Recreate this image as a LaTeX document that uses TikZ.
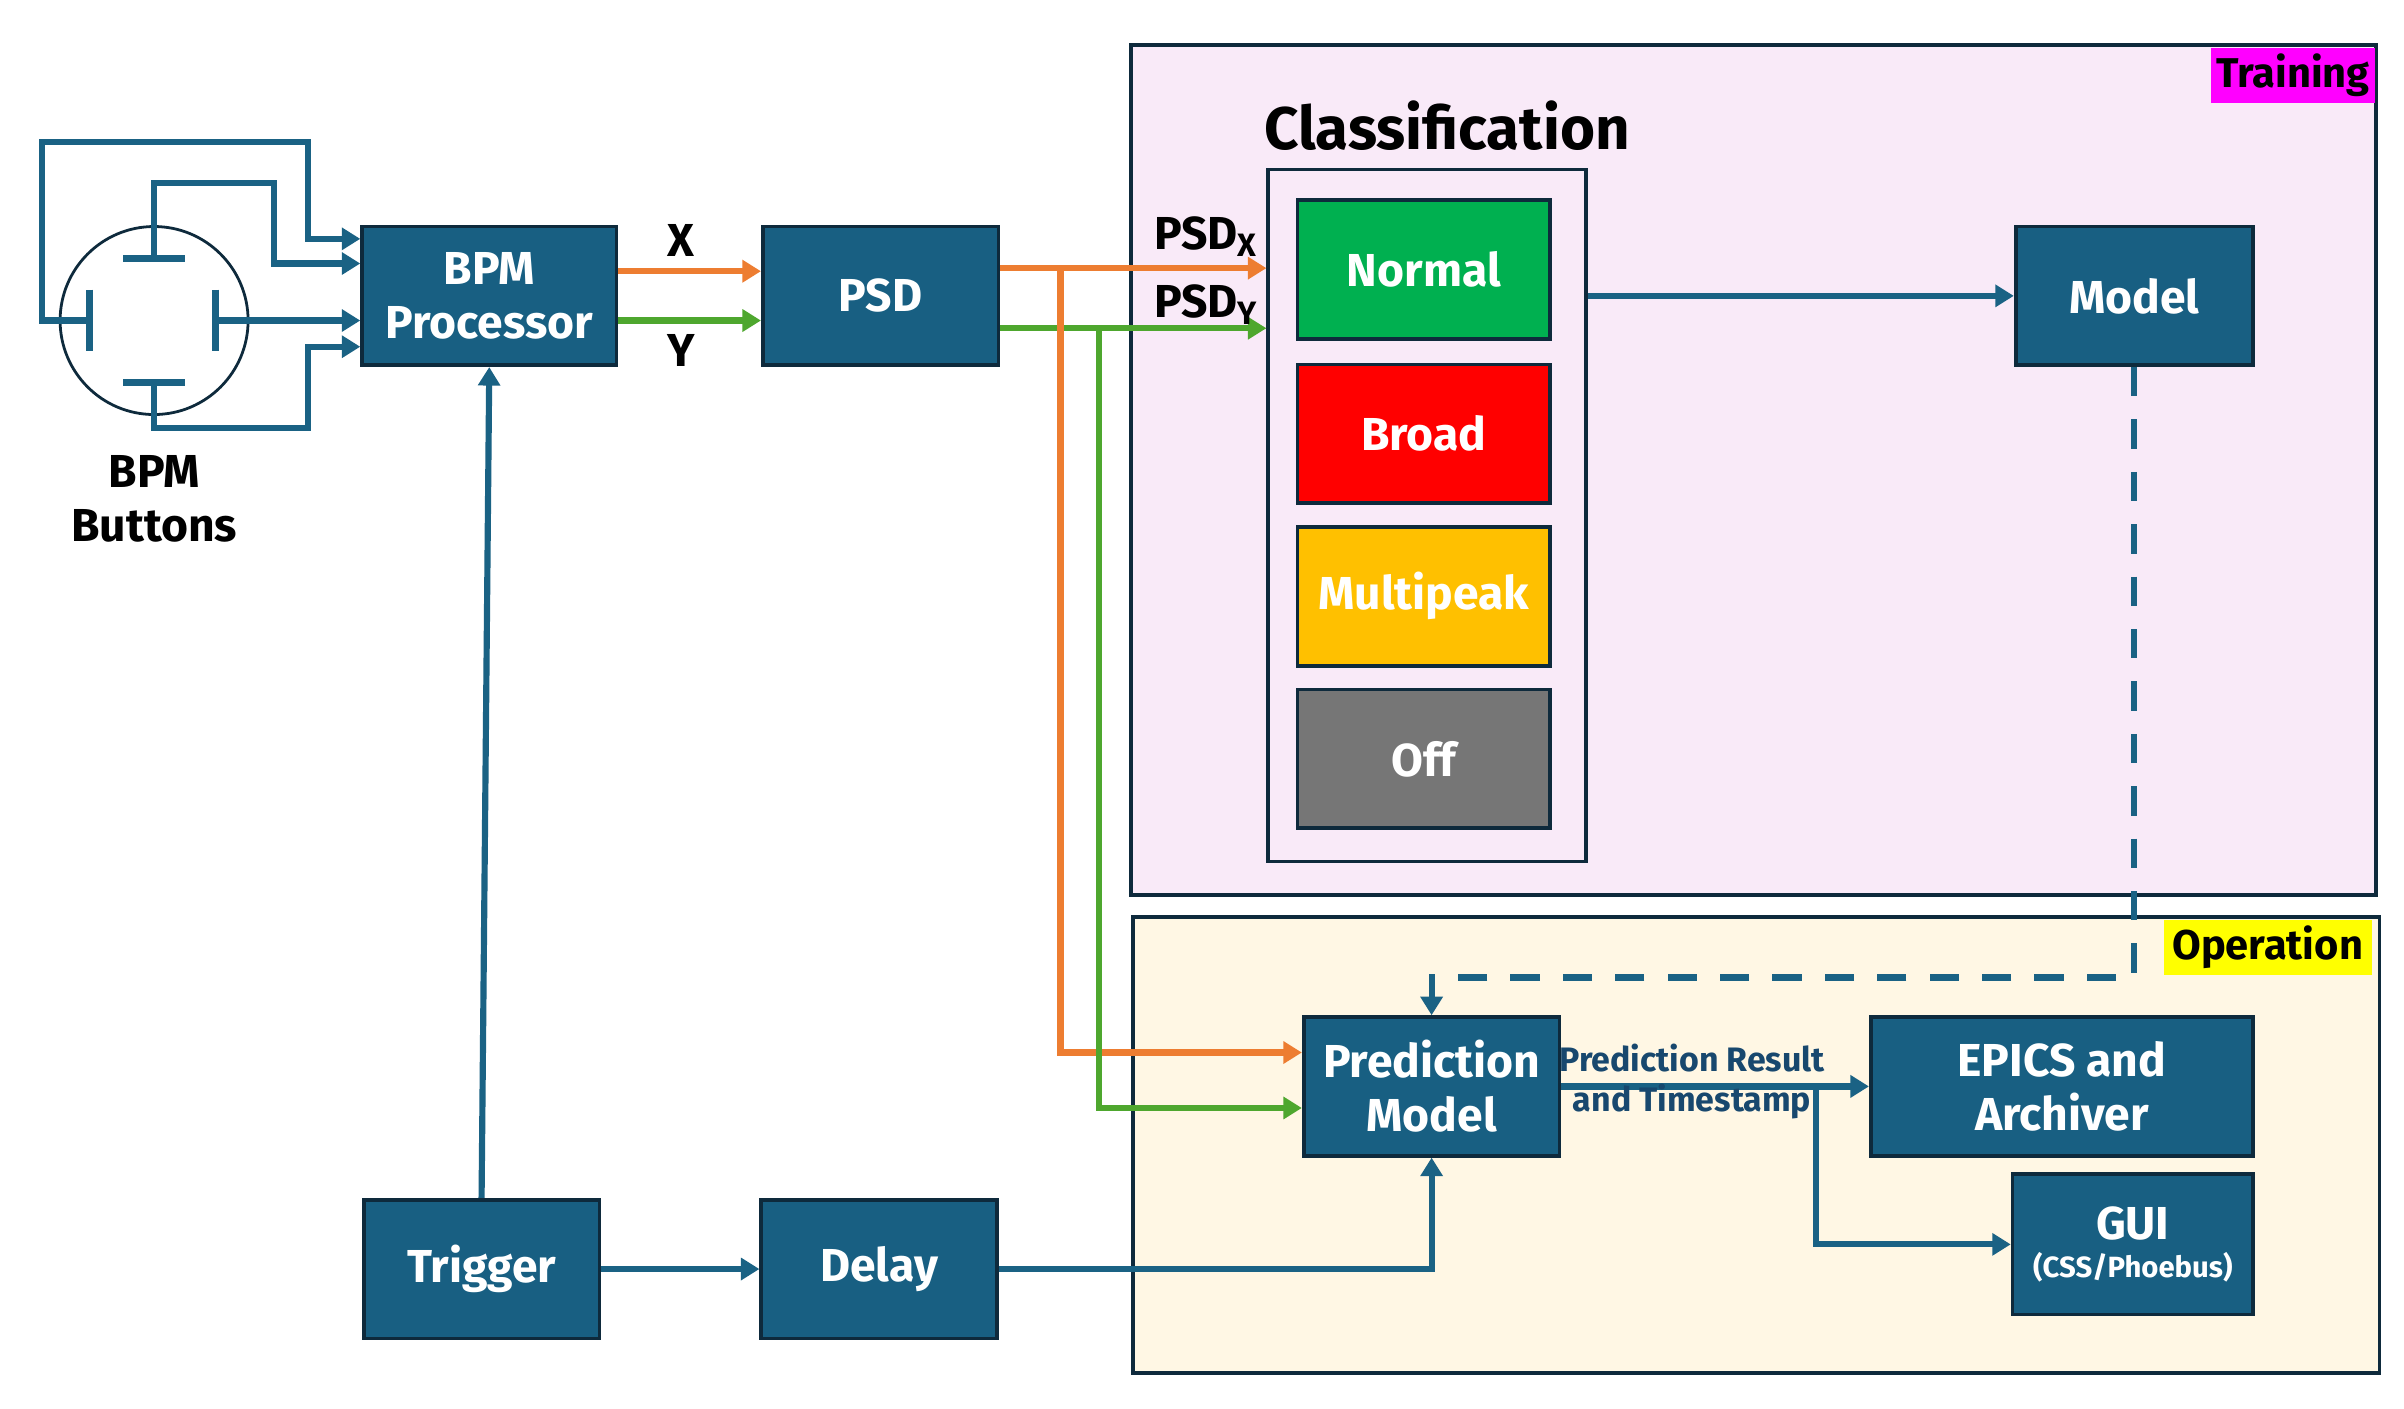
\documentclass[tikz,border=0pt]{standalone}
\usepackage{fontspec}
\setmainfont{Fira Sans}
\usetikzlibrary{arrows.meta,calc}

\definecolor{boxblue}{RGB}{24,95,130}
\definecolor{boxedge}{RGB}{14,42,60}
\definecolor{wireblue}{RGB}{26,98,132}
\definecolor{psdorange}{RGB}{237,125,49}
\definecolor{psdgreen}{RGB}{78,167,46}
\definecolor{trainfill}{RGB}{249,234,248}
\definecolor{operfill}{RGB}{255,247,228}
\definecolor{normalgreen}{RGB}{0,176,80}
\definecolor{broadred}{RGB}{255,0,0}
\definecolor{multiyellow}{RGB}{255,192,0}
\definecolor{offgray}{RGB}{118,118,118}
\definecolor{notetext}{RGB}{24,72,110}
\definecolor{traintagfill}{RGB}{255,0,255}
\definecolor{opertagfill}{RGB}{255,255,0}

\newcommand{\boxfont}{\bfseries\fontsize{15}{17.5}\selectfont}

\tikzset{
  blk/.style={draw=boxedge, line width=1.2pt, fill=boxblue, text=white, font=\boxfont,
    align=center, minimum height=45pt, inner sep=0pt},
  cls/.style={blk, minimum width=82pt},
  frame/.style={draw=boxedge, line width=1.2pt},
  tag/.style={font=\bfseries\fontsize{13.5}{16}\selectfont, inner sep=0pt, minimum height=18pt},
  lbl/.style={font=\boxfont},
  note/.style={font=\bfseries\fontsize{11}{13}\selectfont, text=notetext},
  wire/.style={color=wireblue, line width=2pt},
  xwire/.style={color=psdorange, line width=2pt},
  ywire/.style={color=psdgreen, line width=2pt},
  plate/.style={color=wireblue, line width=2.2pt},
  arr/.style={-{Triangle[length=6pt,width=7pt]}},
  dashwire/.style={wire, dash pattern=on 9.5pt off 7.5pt},
}

\begin{document}
\begin{tikzpicture}[x=0.5pt,y=-0.5pt]
    \fill[white] (0,0) rectangle (1560,914);
    \useasboundingbox (0,0) rectangle (1560,914);

    % training and operation areas
    \draw[frame,fill=trainfill] (734,29) rectangle (1542,581);
    \draw[frame,fill=operfill] (735,595) rectangle (1544,891);
    \node[tag,fill=traintagfill,minimum width=53pt] (traintag) at (1488,49) {Training};
    \node[tag,fill=opertagfill,minimum width=67.5pt] (opertag) at (1471.5,615) {Operation};

    % classification
    \node[anchor=base,font=\bfseries\fontsize{19.5}{22}\selectfont] (clstitle) at (939,97) {Classification};
    \node[frame,minimum width=103pt,minimum height=224.5pt] (clsbox) at (926,334.5) {};
    \node[cls,fill=normalgreen] (normal) at (924,175) {Normal};
    \node[cls,fill=broadred] (broad) at (924,281.5) {Broad};
    \node[cls,fill=multiyellow] (multi) at (924,387) {Multipeak};
    \node[cls,fill=offgray] (off) at (924,492.5) {Off};

    % blocks
    \node[blk,minimum width=82.5pt] (bpm) at (317.5,192) {BPM\\Processor};
    \node[blk,minimum width=76.5pt] (psd) at (571.5,192) {PSD};
    \node[blk,minimum width=77pt] (model) at (1385,192) {Model};
    \node[blk,minimum width=83pt] (pred) at (929,705) {Prediction\\Model};
    \node[blk,minimum width=124pt] (epics) at (1338,705) {EPICS and\\Archiver};
    \node[blk,minimum width=78pt,minimum height=45.5pt] (gui) at (1384,807.5) {GUI\\[-5pt]{\fontsize{9.5}{11}\selectfont (CSS/Phoebus)}};
    \node[blk,minimum width=76.5pt] (trig) at (312.5,823.5) {Trigger};
    \node[blk,minimum width=76.5pt] (delay) at (570.5,823.5) {Delay};

    % bpm buttons
    \node[draw=boxedge,line width=0.9pt,circle,minimum size=61pt,inner sep=0pt] (ring) at (100,208) {};
    \coordinate (lbtn) at (58,208);
    \coordinate (tbtn) at (100,168);
    \coordinate (rbtn) at (140,208);
    \coordinate (bbtn) at (100,248);
    \draw[plate] (58,188) -- (58,228);
    \draw[plate] (140,188) -- (140,228);
    \draw[plate] (80,168) -- (120,168);
    \draw[plate] (80,248) -- (120,248);
    \draw[wire,arr] (lbtn) -- (27,208) |- (200,92) |- ([yshift=18.5pt]bpm.west);
    \draw[wire,arr] (tbtn) |- (178,119) |- ([yshift=10.5pt]bpm.west);
    \draw[wire,arr] (rbtn) -- (rbtn -| bpm.west);
    \draw[wire,arr] (bbtn) |- (200,278) |- ([yshift=-16.5pt]bpm.west);
    \node[lbl,align=center] (btnlbl) at (100,324) {BPM\\Buttons};

    % x and y signals
    \draw[xwire,arr] ([yshift=8pt]bpm.east) -- ([yshift=8pt]psd.west);
    \draw[ywire,arr] ([yshift=-8pt]bpm.east) -- ([yshift=-8pt]psd.west);
    \node[lbl] (xlbl) at (442,156) {X};
    \node[lbl] (ylbl) at (442,227.5) {Y};

    \coordinate (psdx) at ([yshift=9pt]psd.east);
    \coordinate (psdy) at ([yshift=-10.5pt]psd.east);
    \draw[xwire,arr] (psdx) -- (psdx -| clsbox.west);
    \draw[ywire,arr] (psdy) -- (psdy -| clsbox.west);
    \node[lbl,anchor=base west] (psdxlbl) at (742,162) {PSD\textsubscript{X}};
    \node[lbl,anchor=base west] (psdylbl) at (742,206) {PSD\textsubscript{Y}};

    \coordinate (xsplit) at ($(psdx)+(39,0)$);
    \coordinate (ysplit) at ($(psdy)+(64,0)$);
    \draw[xwire,arr] (xsplit) |- ([yshift=11pt]pred.west);
    \draw[ywire,arr] (ysplit) |- ([yshift=-7pt]pred.west);

    % training to operation
    \draw[wire,arr] (model.west -| clsbox.east) -- (model.west);
    \coordinate (dashturn) at ($(pred.north)+(0,-24.5)$);
    \draw[dashwire,arr] (model.south) |- (dashturn) -- (pred.north);

    % outputs
    \draw[wire,arr] (pred.east) -- (epics.west);
    \node[note,anchor=base] (restop) at (1098,695.5) {Prediction Result};
    \node[note,anchor=base] (resbot) at (1098,721.5) {and Timestamp};
    \coordinate (gsplit) at ($(pred.east)+(165,0)$);
    \draw[wire,arr] (gsplit) |- (gui.west);

    % trigger chain
    \draw[wire,arr] (trig.east) -- (delay.west);
    \draw[wire,arr] (delay.east) -| (pred.south);
    \draw[wire,arr] (trig.north) -- (bpm.south);
\end{tikzpicture}
\end{document}
